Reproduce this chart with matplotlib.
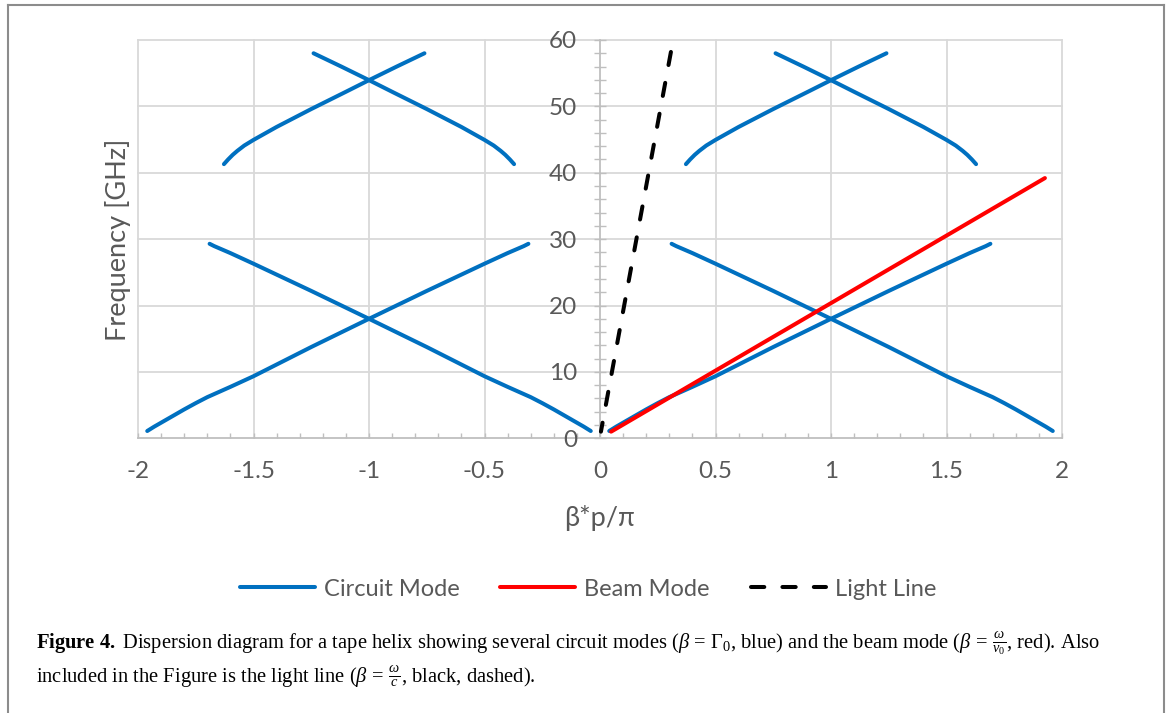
import numpy as np
import matplotlib
matplotlib.use("Agg")
import matplotlib.pyplot as plt
from matplotlib.lines import Line2D
from matplotlib.ticker import MultipleLocator, FixedLocator

plt.rcParams['font.family'] = ['Lato', 'DejaVu Sans']
plt.rcParams['mathtext.fontset'] = 'custom'
plt.rcParams['mathtext.rm'] = 'Liberation Serif'
plt.rcParams['mathtext.it'] = 'Liberation Serif:italic'
plt.rcParams['mathtext.bf'] = 'Liberation Serif:bold'
plt.rcParams['mathtext.fallback'] = 'stix'

# ---------------- data ----------------
# lower circuit-mode branch: frequencies [GHz]
circuit_low_freq = [1.1, 1.75, 2.35, 3.35, 4.35, 5.3, 6.2, 7.75, 9.35, 13.75, 18.0,
                    22.2, 26.3, 27.1, 27.9, 28.5, 28.95, 29.3]
low_rise_right_x = [0.04, 0.07, 0.10, 0.15, 0.20, 0.25, 0.30, 0.40, 0.50, 0.75, 1.00,
                    1.25, 1.50, 1.55, 1.60, 1.64, 1.67, 1.69]
low_rise_left_x = [-1.96, -1.93, -1.90, -1.85, -1.80, -1.75, -1.70, -1.60, -1.50, -1.25, -1.00,
                   -0.75, -0.50, -0.45, -0.40, -0.36, -0.33, -0.31]
low_fall_left_x = [-0.04, -0.07, -0.10, -0.15, -0.20, -0.25, -0.30, -0.40, -0.50, -0.75, -1.00,
                   -1.25, -1.50, -1.55, -1.60, -1.64, -1.67, -1.69]
low_fall_right_x = [1.96, 1.93, 1.90, 1.85, 1.80, 1.75, 1.70, 1.60, 1.50, 1.25, 1.00,
                    0.75, 0.50, 0.45, 0.40, 0.36, 0.33, 0.31]

# upper circuit-mode branch
circuit_up_freq = [41.3, 42.0, 42.7, 43.3, 44.1, 44.95, 46.9, 49.6, 52.2, 53.95, 56.0, 58.0]
up_rise_right_x = [0.372, 0.39, 0.41, 0.43, 0.46, 0.50, 0.60, 0.75, 0.90, 1.00, 1.12, 1.24]
up_rise_left_x = [-1.628, -1.61, -1.59, -1.57, -1.54, -1.50, -1.40, -1.25, -1.10, -1.00, -0.88, -0.76]
up_fall_left_x = [-0.372, -0.39, -0.41, -0.43, -0.46, -0.50, -0.60, -0.75, -0.90, -1.00, -1.12, -1.24]
up_fall_right_x = [1.628, 1.61, 1.59, 1.57, 1.54, 1.50, 1.40, 1.25, 1.10, 1.00, 0.88, 0.76]

beam_x = [0.048, 1.926]
beam_y = [1.0, 39.2]
light_x = [0.307, 0.004]
light_y = [58.2, 1.0]

x_ticks = [-2, -1.5, -1, -0.5, 0, 0.5, 1, 1.5, 2]
x_tick_labels = ['-2', '-1.5', '-1', '-0.5', '0', '0.5', '1', '1.5', '2']
y_ticks = [0, 10, 20, 30, 40, 50, 60]
y_tick_labels = ['0', '10', '20', '30', '40', '50', '60']
series_names = ['Circuit Mode', 'Beam Mode', 'Light Line']

# ---------------- figure ----------------
W, H = 1171, 713
fig = plt.figure(figsize=(W / 100, H / 100), dpi=100)
px = lambda x: x / W
py = lambda y: 1 - y / H

ax_l, ax_r, ax_t, ax_b = 138, 1062, 40, 438.3
ax = fig.add_axes([px(ax_l), py(ax_b), px(ax_r - ax_l), (ax_b - ax_t) / H])
ax.set_xlim(-2, 2)
ax.set_ylim(0, 60)

grid_c = '#D9D9D9'
axis_c = '#BFBFBF'
text_c = '#595959'
blue = '#0070C0'

for xv in x_ticks:
    if xv != 0:
        ax.axvline(xv, color=grid_c, lw=1.3, zorder=0, clip_on=False)
for yv in y_ticks[1:]:
    ax.axhline(yv, color=grid_c, lw=1.3, zorder=0, clip_on=False)

for s in ['top', 'right']:
    ax.spines[s].set_visible(False)
ax.spines['left'].set_position(('data', 0))
for s in ['left', 'bottom']:
    ax.spines[s].set_color(axis_c)
    ax.spines[s].set_linewidth(1.3)
    ax.spines[s].set_zorder(1)

fs = 17.5
ax.xaxis.set_major_locator(FixedLocator(x_ticks))
ax.set_xticklabels(x_tick_labels)
ax.xaxis.set_minor_locator(MultipleLocator(0.1))
ax.yaxis.set_major_locator(FixedLocator(y_ticks))
ax.set_yticklabels(y_tick_labels)
ax.yaxis.set_minor_locator(MultipleLocator(2))

ax.tick_params(axis='x', which='both', direction='in', length=3.8, width=1.0,
               color=axis_c, labelsize=fs, labelcolor=text_c, pad=16)
ax.tick_params(axis='y', which='both', direction='inout', length=8.6, width=1.0,
               color=axis_c, labelsize=fs, labelcolor=text_c, pad=12.0)

lw = 2.9
segs_x = [low_rise_right_x, low_rise_left_x, low_fall_left_x, low_fall_right_x]
for i, xs in enumerate(segs_x):
    ax.plot(xs, circuit_low_freq, color=blue, lw=lw, solid_capstyle='round',
            label=series_names[0] if i == 0 else None, zorder=3)
for xs in [up_rise_right_x, up_rise_left_x, up_fall_left_x, up_fall_right_x]:
    ax.plot(xs, circuit_up_freq, color=blue, lw=lw, solid_capstyle='round', zorder=3)
ax.plot(beam_x, beam_y, color='#FF0000', lw=lw, solid_capstyle='round',
        label=series_names[1], zorder=4)
ax.plot(light_x, light_y, color='black', lw=lw, dashes=(3.3, 4.5),
        dash_capstyle='round', label=series_names[2], zorder=5)

tfs = 19.5
fig.text(px(118), py(240), 'Frequency [GHz]', rotation=90, ha='center', va='center',
         fontsize=tfs, color=text_c)
fig.text(px(600), py(518), 'β*p/π', ha='center', va='center', fontsize=tfs, color=text_c)

handles, labels = ax.get_legend_handles_labels()
lfs = 17
lfs_px = lfs * 100 / 72
leg = fig.legend(handles, labels, loc='center', bbox_to_anchor=(px(588), py(589)),
                 ncol=3, frameon=False, fontsize=lfs, labelcolor=text_c,
                 handlelength=75 / lfs_px, handletextpad=9 / lfs_px,
                 columnspacing=41 / lfs_px)

# caption
cap_fs = 14.8
line1 = (r'$\mathbf{Figure\ 4.}$ Dispersion diagram for a tape helix showing several circuit '
         r'modes ($\beta\,=\,\Gamma_0$, blue) and the beam mode ($\beta\,=\,\frac{\omega}{v_0}$, red). Also')
line2 = r'included in the Figure is the light line ($\beta\,=\,\frac{\omega}{c}$, black, dashed).'
fig.text(px(36), py(650), line1, ha='left', va='baseline', fontsize=cap_fs,
         family='Liberation Serif', color='black')
fig.text(px(36), py(683), line2, ha='left', va='baseline', fontsize=cap_fs,
         family='Liberation Serif', color='black')

# outer border
bc = '#8C8C8C'
fig.add_artist(Line2D([px(8), px(8)], [py(5), 0], color=bc, lw=1.5))
fig.add_artist(Line2D([px(1164), px(1164)], [py(5), 0], color=bc, lw=1.5))
fig.add_artist(Line2D([px(8), px(1164)], [py(5), py(5)], color=bc, lw=1.5))

fig.savefig('out.png', dpi=100)
